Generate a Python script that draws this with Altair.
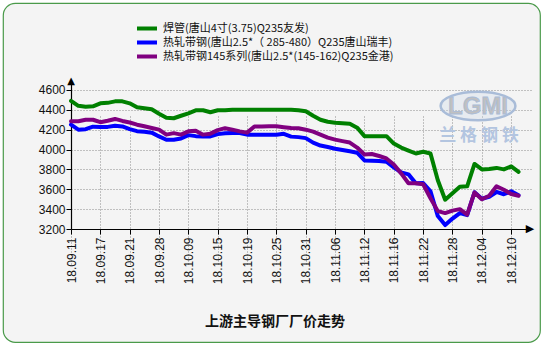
import altair as alt
import pandas as pd

dates = ["18.09.11", "18.09.12", "18.09.13", "18.09.14", "18.09.17", "18.09.18", "18.09.19", "18.09.20",
         "18.09.21", "18.09.25", "18.09.26", "18.09.27", "18.09.28", "18.09.29", "18.09.30", "18.10.08",
         "18.10.09", "18.10.10", "18.10.11", "18.10.12", "18.10.15", "18.10.16", "18.10.17", "18.10.18",
         "18.10.19", "18.10.22", "18.10.23", "18.10.24", "18.10.25", "18.10.26", "18.10.29", "18.10.30",
         "18.10.31", "18.11.01", "18.11.02", "18.11.05", "18.11.06", "18.11.07", "18.11.08", "18.11.09",
         "18.11.12", "18.11.13", "18.11.14", "18.11.15", "18.11.16", "18.11.19", "18.11.20", "18.11.21",
         "18.11.22", "18.11.23", "18.11.26", "18.11.27", "18.11.28", "18.11.29", "18.11.30", "18.12.03",
         "18.12.04", "18.12.05", "18.12.06", "18.12.07", "18.12.10", "18.12.11"]

weld_pipe = [4490, 4440, 4430, 4435, 4465, 4470, 4485, 4485, 4465, 4425,
             4415, 4405, 4360, 4320, 4315, 4340, 4365, 4395, 4395, 4375,
             4395, 4395, 4400, 4400, 4400, 4400, 4400, 4400, 4400, 4400,
             4400, 4395, 4385, 4340, 4300, 4280, 4270, 4265, 4260, 4220,
             4135, 4135, 4135, 4135, 4060, 4020, 3990, 3960, 3978, 3960,
             3690, 3495, 3560, 3625, 3630, 3855, 3800, 3805, 3815, 3800,
             3830, 3775]

strip_285 = [4250, 4200, 4205, 4230, 4228, 4228, 4240, 4232, 4205, 4185,
             4178, 4170, 4132, 4098, 4098, 4112, 4145, 4135, 4132, 4132,
             4155, 4165, 4166, 4166, 4150, 4148, 4148, 4148, 4150, 4158,
             4130, 4125, 4115, 4070, 4040, 4025, 4008, 3995, 3982, 3968,
             3890, 3888, 3885, 3877, 3820, 3770, 3750, 3660, 3662, 3580,
             3330, 3240, 3305, 3360, 3340, 3570, 3505, 3525, 3573, 3550,
             3580, 3540]

strip_145 = [4285, 4285, 4300, 4300, 4275, 4290, 4308, 4288, 4272, 4250,
             4234, 4217, 4200, 4150, 4165, 4150, 4183, 4190, 4150, 4160,
             4195, 4215, 4200, 4183, 4170, 4232, 4232, 4234, 4234, 4225,
             4217, 4215, 4200, 4180, 4150, 4120, 4100, 4085, 4070, 4020,
             3950, 3955, 3935, 3910, 3850, 3760, 3660, 3660, 3650, 3510,
             3380, 3360, 3385, 3400, 3345, 3568, 3500, 3535, 3630, 3595,
             3552, 3535]

series_names = ["焊管(唐山4寸(3.75)Q235友发)",
                "热轧带钢(唐山2.5*（ 285-480）Q235唐山瑞丰)",
                "热轧带钢145系列(唐山2.5*(145-162)Q235金港)"]
series_colors = ["#008000", "#0000ff", "#800080"]
y_ticks = [3200, 3400, 3600, 3800, 4000, 4200, 4400, 4600]
x_tick_idx = list(range(0, len(dates), 4))
chart_title = "上游主导钢厂厂价走势"

rows = []
for name, vals in zip(series_names, [weld_pipe, strip_285, strip_145]):
    for i, (d, v) in enumerate(zip(dates, vals)):
        rows.append({"idx": i, "date": d, "series": name, "price": v})
df = pd.DataFrame(rows)

# the view is the whole rounded panel; the plot region sits inside it via scale ranges
BW, BH = 537, 339
PX0, PX1 = 68, 528      # plot left / right inside the panel
PY0, PY1 = 78, 226      # plot top / bottom inside the panel
label_expr = "[" + ",".join("'%s'" % d for d in dates) + "][datum.value]"
LAT = "Liberation Sans"
CJK = "Noto Sans CJK SC"


def one():
    return alt.Data(values=[{"k": 1}])


x_scale = alt.Scale(domain=[0, 62.7], range=[PX0, PX1], nice=False, zero=False)
y_scale = alt.Scale(domain=[3200, 4690], range=[PY1, PY0], nice=False, zero=False)

axis_common = dict(title=None, grid=True, gridDash=[1, 2], gridColor="#8c8c8c", gridWidth=1,
                   domainColor="#000000", domainWidth=1.2,
                   tickColor="#000000", tickSize=5, labelFont=LAT, labelFontSize=12,
                   labelColor="#111111", labelOverlap=False)
x_axis = alt.Axis(values=x_tick_idx, labelExpr=label_expr, labelAngle=270, labelPadding=3,
                  offset=-(BH - PY1), **axis_common)
y_axis = alt.Axis(values=y_ticks, format="d", labelPadding=1, offset=-PX0, **axis_common)

ellipse = alt.Chart(one()).mark_point(
    shape="M -1 0 A 1 0.38 0 1 1 1 0 A 1 0.38 0 1 1 -1 0 Z",
    size=5600, stroke="#a9bcd8", strokeWidth=2.5, fill="#c9d6e8", fillOpacity=0.3, opacity=1
).encode(x=alt.value(475), y=alt.value(103))
logo1 = alt.Chart(one()).mark_text(text="LGMI", font=LAT, fontSize=24, fontWeight="bold",
                                   color="#c0c0c0", stroke="#a9bcd8", strokeWidth=0.8).encode(
    x=alt.value(475), y=alt.value(104))
logo2 = alt.Chart(one()).mark_text(text="兰 格 钢 铁", font=CJK, fontSize=17, fontWeight="bold",
                                   color="#b3c5e0").encode(
    x=alt.value(476), y=alt.value(133))

lines = alt.Chart(df).mark_line(strokeWidth=4, strokeJoin="round", strokeCap="round").encode(
    x=alt.X("idx:Q", scale=x_scale, axis=x_axis),
    y=alt.Y("price:Q", scale=y_scale, axis=y_axis),
    color=alt.Color("series:N", scale=alt.Scale(domain=series_names, range=series_colors),
                    legend=None),
)

# legend (drawn as marks, one row per series)
legend_layers = []
for k, (name, col) in enumerate(zip(series_names, series_colors)):
    yy = 25.5 + 14 * k
    legend_layers.append(alt.Chart(one()).mark_rule(color=col, strokeWidth=4).encode(
        x=alt.value(134), x2=alt.value(154), y=alt.value(yy)))
    legend_layers.append(alt.Chart(one()).mark_text(
        text=name, font=CJK, fontSize=11, color="#111111", align="left", baseline="middle").encode(
        x=alt.value(160), y=alt.value(yy)))

up_arrow = alt.Chart(one()).mark_text(text="▲", font="DejaVu Sans", fontSize=10, color="#000000",
                                      align="center", baseline="middle").encode(
    x=alt.value(PX0), y=alt.value(PY0))
right_arrow = alt.Chart(one()).mark_text(text="▶", font="DejaVu Sans", fontSize=11, color="#000000",
                                         align="center", baseline="middle").encode(
    x=alt.value(PX1 - 1), y=alt.value(PY1))
title_text = alt.Chart(one()).mark_text(text=chart_title, font=CJK, fontSize=14, fontWeight="bold",
                                        color="#111111").encode(x=alt.value(272), y=alt.value(319))

chart = alt.layer(ellipse, logo1, logo2, lines,
                  *legend_layers, up_arrow, right_arrow, title_text).properties(
    width=BW, height=BH,
    padding={"left": 3, "top": 3, "right": 10, "bottom": 8},
    autosize=alt.AutoSizeParams(type="none"),
    background="#ffffff",
).configure_view(fill="#f4f4f4", stroke="#4a9a4a", strokeWidth=1.2, cornerRadius=12)

chart.save("out.html", embed_options={"renderer": "svg", "actions": False})
